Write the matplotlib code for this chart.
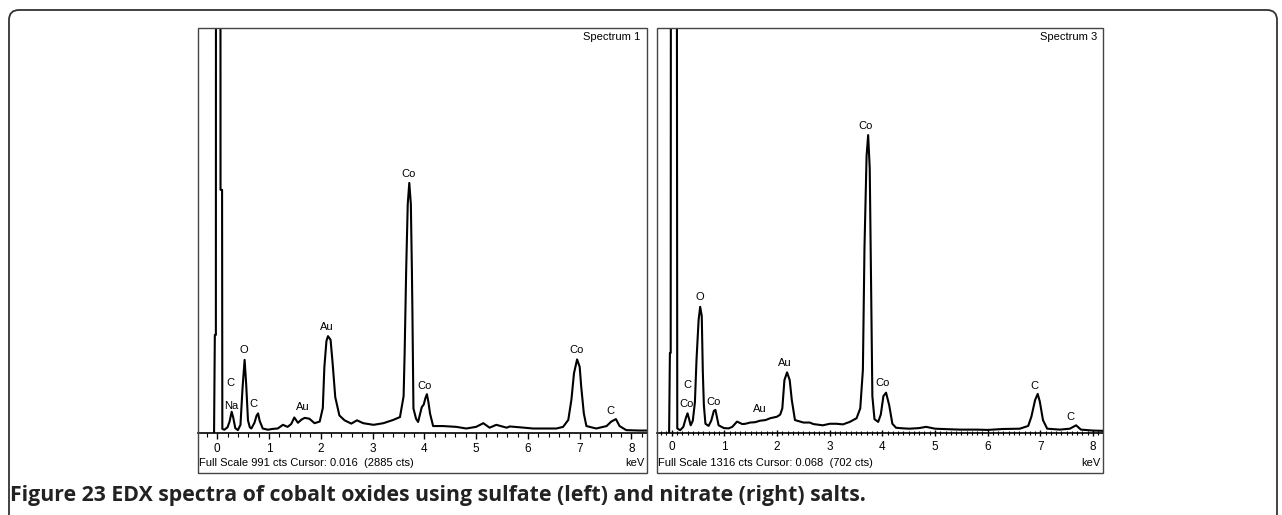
import matplotlib.pyplot as plt
from matplotlib.patches import Rectangle, FancyBboxPatch
from matplotlib.ticker import MultipleLocator
from matplotlib.transforms import IdentityTransform

# sulfate sample (Spectrum 1)
energia1 = [-0.06, -0.045, -0.025, -0.02, 0.06, 0.065, 0.095, 0.10, 0.14, 0.20, 0.24, 0.28, 0.31,
            0.35, 0.40, 0.45, 0.49, 0.53, 0.56, 0.595, 0.63, 0.66, 0.72, 0.76, 0.79, 0.82, 0.88,
            0.98, 1.07, 1.17, 1.27, 1.36, 1.43, 1.49, 1.56, 1.63, 1.69, 1.78, 1.88, 1.98, 2.04,
            2.07, 2.11, 2.14, 2.19, 2.23, 2.28, 2.36, 2.46, 2.59, 2.70, 2.82, 3.02, 3.21, 3.40,
            3.53, 3.60, 3.62, 3.65, 3.68, 3.71, 3.74, 3.76, 3.77, 3.79, 3.84, 3.88, 3.95, 3.99,
            4.02, 4.05, 4.08, 4.11, 4.17, 4.36, 4.62, 4.81, 5.00, 5.14, 5.26, 5.39, 5.59, 5.65,
            5.84, 6.10, 6.36, 6.55, 6.68, 6.78, 6.84, 6.89, 6.95, 7.00, 7.03, 7.08, 7.13, 7.32,
            7.52, 7.61, 7.70, 7.77, 7.90, 8.16, 8.30]
teller1 = [0, 240, 240, 2885, 2885, 595, 595, 10, 8, 14, 28, 52, 38,
           12, 7, 20, 110, 179, 120, 31, 14, 11, 25, 42, 48, 30, 11,
           8, 10, 11, 20, 15, 22, 38, 25, 33, 37, 35, 24, 28, 61,
           161, 225, 237, 228, 170, 88, 43, 31, 23, 31, 24, 20, 24, 32,
           39, 90, 195, 400, 560, 612, 560, 400, 300, 60, 35, 27, 63, 70,
           85, 95, 75, 48, 17, 17, 15, 11, 15, 24, 13, 20, 13, 16,
           14, 11, 11, 11, 15, 32, 81, 146, 180, 162, 113, 48, 17, 11,
           17, 28, 34, 17, 7, 6, 6]

# nitrate sample (Spectrum 3)
energia2 = [-0.05, -0.035, -0.02, -0.015, 0.095, 0.105, 0.16, 0.22, 0.27, 0.30, 0.33, 0.36, 0.40,
            0.44, 0.47, 0.51, 0.54, 0.57, 0.59, 0.61, 0.64, 0.70, 0.75, 0.80, 0.83, 0.86, 0.89,
            0.99, 1.08, 1.15, 1.24, 1.34, 1.40, 1.49, 1.58, 1.68, 1.78, 1.87, 2.00, 2.06, 2.10,
            2.14, 2.19, 2.24, 2.28, 2.34, 2.42, 2.50, 2.62, 2.69, 2.87, 3.00, 3.13, 3.25, 3.38,
            3.51, 3.58, 3.63, 3.66, 3.70, 3.73, 3.76, 3.79, 3.81, 3.85, 3.92, 3.97, 4.02, 4.07,
            4.13, 4.19, 4.26, 4.40, 4.52, 4.70, 4.83, 5.00, 5.15, 5.30, 5.47, 5.79, 6.00, 6.29,
            6.61, 6.77, 6.83, 6.90, 6.95, 6.99, 7.05, 7.13, 7.37, 7.56, 7.68, 7.77, 7.99, 8.19]
teller2 = [0, 260, 260, 2000, 2000, 15, 9, 20, 50, 64, 45, 25, 40,
           100, 237, 367, 410, 380, 200, 90, 30, 23, 40, 72, 75, 50, 25,
           16, 15, 20, 37, 29, 30, 34, 35, 40, 42, 48, 53, 60, 80,
           172, 197, 172, 107, 42, 38, 34, 34, 29, 25, 30, 30, 28, 36,
           48, 80, 205, 600, 900, 968, 860, 420, 120, 45, 36, 60, 120, 131,
           90, 30, 17, 15, 14, 16, 20, 14, 13, 12, 11, 11, 10, 13,
           14, 23, 53, 107, 127, 102, 42, 14, 11, 14, 25, 11, 8, 7]

# peak labels: (text, keV, counts)
etiketter1 = [("Co", 3.69, 634), ("Au", 2.12, 259), ("O", 0.52, 203), ("C", 0.26, 122),
              ("Na", 0.28, 66), ("C", 0.71, 71), ("Au", 1.65, 64), ("Co", 4.01, 115),
              ("Co", 6.94, 203), ("C", 7.59, 55)]
etiketter2 = [("Co", 3.69, 997), ("O", 0.54, 441), ("Au", 2.15, 228), ("C", 0.29, 156),
              ("Co", 0.29, 94), ("Co", 0.79, 102), ("Au", 1.67, 77), ("Co", 4.00, 161),
              ("C", 6.88, 153), ("C", 7.58, 53)]

fullskala = [991, 1316]
titler = ["Spectrum 1", "Spectrum 3"]
bunntekst = ["Full Scale 991 cts Cursor: 0.016  (2885 cts)",
             "Full Scale 1316 cts Cursor: 0.068  (702 cts)"]

W, H = 1282, 515
plt.rcParams['font.family'] = ['Liberation Sans', 'DejaVu Sans']
fig = plt.figure(figsize=(W / 100, H / 100), dpi=100)

# outer rounded frame
fig.add_artist(FancyBboxPatch((9, -20), 1268, 525, boxstyle="round,pad=0,rounding_size=10",
                              transform=IdentityTransform(), fill=False,
                              edgecolor='#333333', linewidth=1.3))

# panel layout in pixels: box left, box width, x limits, minor tick step, tick direction
paneler = [(198, 449, (-0.37, 8.30), 0.2, 'out'),
           (657, 446, (-0.28, 8.19), 0.1, 'inout')]
spektra = [(energia1, teller1, etiketter1), (energia2, teller2, etiketter2)]

topp, grunnlinje, bunn = 28, 433, 473

for i in range(2):
    x0, bredde, xlim, minor, retning = paneler[i]
    energi, teller, etiketter = spektra[i]

    fig.add_artist(Rectangle((x0 / W, (H - bunn) / H), bredde / W, (bunn - topp) / H,
                             transform=fig.transFigure, fill=False,
                             edgecolor='#444444', linewidth=1.0))

    ax = fig.add_axes([x0 / W, (H - grunnlinje) / H, bredde / W, (grunnlinje - topp) / H])
    ax.plot(energi, teller, color='black', linewidth=1.5)
    ax.set_xlim(xlim)
    ax.set_ylim(0, fullskala[i])

    for side in ['top', 'left', 'right']:
        ax.spines[side].set_visible(False)
    ax.spines['bottom'].set_linewidth(1.2)
    ax.set_yticks([])
    ax.set_xticks(range(9))
    ax.xaxis.set_minor_locator(MultipleLocator(minor))
    ax.tick_params(axis='x', which='major', direction=retning, length=4, width=1,
                   labelsize=8.5, pad=3.5)
    ax.tick_params(axis='x', which='minor', direction=retning, length=3, width=0.8)
    ax.patch.set_alpha(0)

    for tekst, e, c in etiketter:
        ax.text(e, c, tekst, ha='center', va='center', fontsize=8)

    ax.text(0.986, 0.978, titler[i], transform=ax.transAxes, ha='right', va='center', fontsize=8)
    ax.text(0.003, -0.074, bunntekst[i], transform=ax.transAxes, ha='left', va='center', fontsize=8)
    ax.text(0.994, -0.074, "keV", transform=ax.transAxes, ha='right', va='center', fontsize=8)

fig.text(10 / W, (H - 495) / H,
         "Figure 23 EDX spectra of cobalt oxides using sulfate (left) and nitrate (right) salts.",
         fontsize=15.3, fontweight='bold', family=['Open Sans', 'DejaVu Sans'],
         ha='left', va='center', color='#222222')

fig.savefig("out.png", dpi=100)
